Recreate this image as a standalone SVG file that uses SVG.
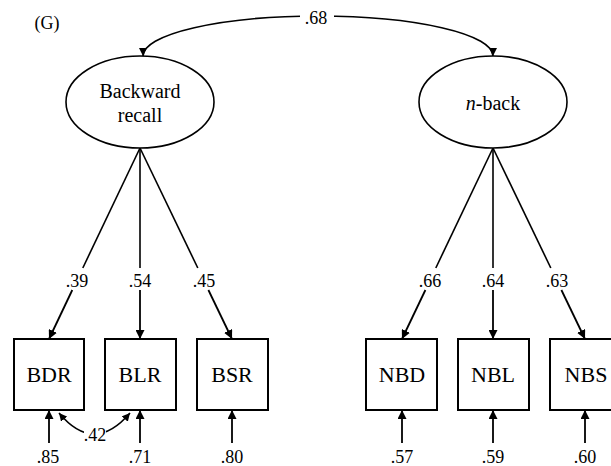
<svg xmlns="http://www.w3.org/2000/svg" width="611" height="466" viewBox="0 0 611 466">
<defs>
<style>
text, svg g[id] text:not(#z1):not(#z2):not(#z3){font-family:"Liberation Serif","Times New Roman",serif !important;fill:#000;text-anchor:middle}
.lbl{font-size:22px}
.lat{font-size:20px}
.num{font-size:18px}
.box{fill:#fff;stroke:#000;stroke-width:2}
.ell{fill:#fff;stroke:#000;stroke-width:1.6}
.ln{fill:none;stroke:#000;stroke-width:1.6}
.arr{fill:none;stroke:#000;stroke-width:1.8}
</style>
<marker id="ah" viewBox="0 0 10 10" refX="10" refY="5" markerWidth="5" markerHeight="5" orient="auto-start-reverse" markerUnits="strokeWidth">
<path d="M0,0 L10,5 L0,10 z" fill="#000"/>
</marker>
</defs>
<rect width="611" height="466" fill="#fff"/>
<text x="47" y="29" class="num">(G)</text>
<g id="connectors">
<path class="ln" d="M143,56 A175,40 0 0 1 493,56" marker-start="url(#ah)" marker-end="url(#ah)"/>
<rect x="300" y="8" width="34" height="20" fill="#fff"/>
<text x="316" y="24" class="num" style="font-family:'Liberation Serif',serif !important">.68</text>
<line class="ln" x1="140" y1="148" x2="82.8" y2="268"/>
<line class="arr" x1="72.3" y1="290" x2="49" y2="339" marker-end="url(#ah)"/>
<line class="ln" x1="140" y1="148" x2="140" y2="268"/>
<line class="arr" x1="140" y1="290" x2="140" y2="339" marker-end="url(#ah)"/>
<line class="ln" x1="140" y1="148" x2="197.8" y2="268"/>
<line class="arr" x1="208.4" y1="290" x2="232" y2="339" marker-end="url(#ah)"/>
<line class="ln" x1="493" y1="148" x2="435.8" y2="268"/>
<line class="arr" x1="425.4" y1="290" x2="402" y2="339" marker-end="url(#ah)"/>
<line class="ln" x1="493" y1="148" x2="493" y2="268"/>
<line class="arr" x1="493" y1="290" x2="493" y2="339" marker-end="url(#ah)"/>
<line class="ln" x1="493" y1="148" x2="550.8" y2="268"/>
<line class="arr" x1="561.4" y1="290" x2="585" y2="339" marker-end="url(#ah)"/>
<text x="77" y="287" class="num">.39</text>
<text x="140" y="287" class="num">.54</text>
<text x="204" y="287" class="num">.45</text>
<text x="430" y="287" class="num">.66</text>
<text x="493" y="287" class="num">.64</text>
<text x="557" y="287" class="num">.63</text>
<line class="arr" x1="49" y1="443" x2="49" y2="410" marker-end="url(#ah)"/>
<line class="arr" x1="140" y1="443" x2="140" y2="410" marker-end="url(#ah)"/>
<line class="arr" x1="232" y1="443" x2="232" y2="410" marker-end="url(#ah)"/>
<line class="arr" x1="402" y1="443" x2="402" y2="410" marker-end="url(#ah)"/>
<line class="arr" x1="493" y1="443" x2="493" y2="410" marker-end="url(#ah)"/>
<line class="arr" x1="585" y1="443" x2="585" y2="410" marker-end="url(#ah)"/>
<path class="ln" d="M59,413 Q94,455 130,413" marker-start="url(#ah)" marker-end="url(#ah)"/>
<rect x="84" y="426" width="22" height="16" fill="#fff"/>
<text x="95" y="441" class="num">.42</text>
<text x="48" y="463" class="num">.85</text>
<text x="140" y="463" class="num">.71</text>
<text x="232" y="463" class="num">.80</text>
<text x="402" y="463" class="num">.57</text>
<text x="493" y="463" class="num">.59</text>
<text x="585" y="463" class="num">.60</text>
</g>
<g id="backward-recall">
<ellipse class="ell" cx="140" cy="102" rx="74" ry="46"/>
<text x="140" y="98" class="lat">Backward</text>
<text x="140" y="122" class="lat">recall</text>
</g>
<g id="n-back">
<ellipse class="ell" cx="493" cy="102" rx="74" ry="46"/>
<text x="493" y="110" class="lat"><tspan font-style="italic">n</tspan>-back</text>
</g>
<g id="BDR"><rect class="box" x="14" y="339" width="70" height="71"/><text x="49" y="382" class="lbl">BDR</text></g>
<g id="BLR"><rect class="box" x="105" y="339" width="71" height="71"/><text x="140" y="382" class="lbl">BLR</text></g>
<g id="BSR"><rect class="box" x="197" y="339" width="71" height="71"/><text x="232" y="382" class="lbl">BSR</text></g>
<g id="NBD"><rect class="box" x="366" y="339" width="71" height="71"/><text x="402" y="382" class="lbl">NBD</text></g>
<g id="NBL"><rect class="box" x="458" y="339" width="71" height="71"/><text x="493" y="382" class="lbl">NBL</text></g>
<g id="NBS"><rect class="box" x="550" y="339" width="72" height="71"/><text x="586" y="382" class="lbl">NBS</text></g>
</svg>
